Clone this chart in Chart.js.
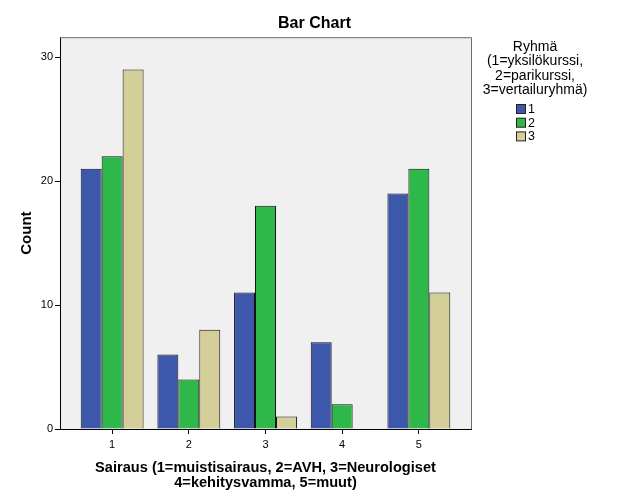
<!DOCTYPE html>
<html>
<head>
<meta charset="utf-8">
<script src="https://cdn.jsdelivr.net/npm/chart.js@4/dist/chart.umd.min.js"></script>
<style>
  html, body { margin: 0; padding: 0; background: #ffffff; }
  #wrap { width: 629px; height: 504px; }
</style>
</head>
<body>
<div id="wrap"><canvas id="c" width="629" height="504"></canvas></div>
<script>
// ---- data ----
const categories = [1, 2, 3, 4, 5];
const categoryLabels = ['1', '2', '3', '4', '5'];
const group1 = [21, 6, 11, 7, 19];
const group2 = [22, 4, 18, 2, 21];
const group3 = [29, 8, 1, 0, 11];
const seriesLabels = ['1', '2', '3'];
const yTicks = [0, 10, 20, 30];
const chartTitle = 'Bar Chart';
const yTitle = 'Count';
const xTitle = ['Sairaus (1=muistisairaus, 2=AVH, 3=Neurologiset', '4=kehitysvamma, 5=muut)'];
const legendTitle = ['Ryhmä', '(1=yksilökurssi,', '2=parikurssi,', '3=vertailuryhmä)'];

const colors = ['#3d58ab', '#2fb84a', '#d4cf99'];
const FONT = '"Liberation Sans", Arial, sans-serif';

function pts(arr) { return categories.map((c, i) => ({ x: c, y: arr[i] })); }

const seriesData = [group1, group2, group3];

const plotBg = {
  id: 'plotBg',
  beforeDraw(chart) {
    const { ctx, chartArea: a } = chart;
    ctx.save();
    ctx.fillStyle = '#f0f0f0';
    ctx.fillRect(a.left, a.top, a.right - a.left, a.bottom - a.top);
    ctx.restore();
  },
  afterDraw(chart) {
    const { ctx, chartArea: a } = chart;
    ctx.save();
    ctx.strokeStyle = '#6e6e6e';
    ctx.lineWidth = 1;
    ctx.beginPath();
    ctx.moveTo(a.left, a.top + 0.5);
    ctx.lineTo(a.right + 0.5, a.top + 0.5);
    ctx.lineTo(a.right + 0.5, a.bottom);
    ctx.stroke();
    ctx.restore();
  }
};

const customLegend = {
  id: 'customLegend',
  afterDraw(chart) {
    const { ctx } = chart;
    ctx.save();
    ctx.font = '14px ' + FONT;
    ctx.fillStyle = '#000';
    ctx.textAlign = 'center';
    ctx.textBaseline = 'middle';
    const cx = 535;
    legendTitle.forEach((t, i) => ctx.fillText(t, cx, 47 + i * 14.5));
    ctx.font = '12.5px ' + FONT;
    ctx.textAlign = 'left';
    chart.data.datasets.forEach((ds, i) => {
      const y = 109 + i * 13.7;
      ctx.fillStyle = ds.backgroundColor;
      ctx.fillRect(516.5, y - 4.5, 9, 9);
      ctx.strokeStyle = '#222';
      ctx.lineWidth = 1;
      ctx.strokeRect(516.5, y - 4.5, 9, 9);
      ctx.fillStyle = '#000';
      ctx.fillText(ds.label, 528, y + 0.5);
    });
    ctx.restore();
  }
};

new Chart(document.getElementById('c'), {
  type: 'bar',
  data: {
    datasets: seriesData.map((arr, i) => ({
      label: seriesLabels[i],
      data: pts(arr),
      backgroundColor: colors[i],
      borderColor: '#111111',
      borderWidth: 1,
      borderSkipped: 'bottom',
      categoryPercentage: 0.82,
      barPercentage: 1.0
    }))
  },
  options: {
    responsive: false,
    animation: false,
    devicePixelRatio: 1,
    layout: { padding: 0 },
    plugins: {
      legend: { display: false },
      tooltip: { enabled: false },
      title: {
        display: true,
        text: chartTitle,
        fullSize: true,
        color: '#000',
        font: { family: FONT, size: 16, weight: 'bold' },
        padding: { top: 14, bottom: 4 }
      }
    },
    scales: {
      x: {
        type: 'linear',
        min: 0.32,
        max: 5.68,
        offset: false,
        afterBuildTicks: (s) => { s.ticks = categories.map(v => ({ value: v })); },
        afterFit: (s) => { s.height = 75; },
        ticks: {
          color: '#000',
          font: { family: FONT, size: 11 },
          padding: 4,
          callback: (v) => categoryLabels[categories.indexOf(v)] ?? ''
        },
        grid: { display: true, offset: false, drawOnChartArea: false, drawTicks: true, tickLength: 5, color: '#000' },
        border: { display: true, color: '#000', width: 1 },
        title: {
          display: true,
          text: xTitle,
          color: '#000',
          font: { family: FONT, size: 14.6, weight: 'bold', lineHeight: 1.0 },
          padding: { top: 0, bottom: 14 }
        }
      },
      y: {
        min: 0,
        max: 31.6,
        afterBuildTicks: (s) => { s.ticks = yTicks.map(v => ({ value: v })); },
        afterFit: (s) => { s.width = 60; },
        ticks: {
          color: '#000',
          font: { family: FONT, size: 11 },
          padding: 2
        },
        grid: { display: true, drawOnChartArea: false, drawTicks: true, tickLength: 5, color: '#000' },
        border: { display: true, color: '#000', width: 1 },
        title: {
          display: true,
          text: yTitle,
          color: '#000',
          font: { family: FONT, size: 15, weight: 'bold' },
          padding: { top: 18, bottom: 0 }
        }
      },
      legendSpace: {
        type: 'linear',
        position: 'right',
        display: true,
        afterFit: (s) => { s.width = 158; },
        ticks: { display: false },
        grid: { display: false },
        border: { display: false }
      }
    }
  },
  plugins: [plotBg, customLegend]
});
</script>
</body>
</html>
